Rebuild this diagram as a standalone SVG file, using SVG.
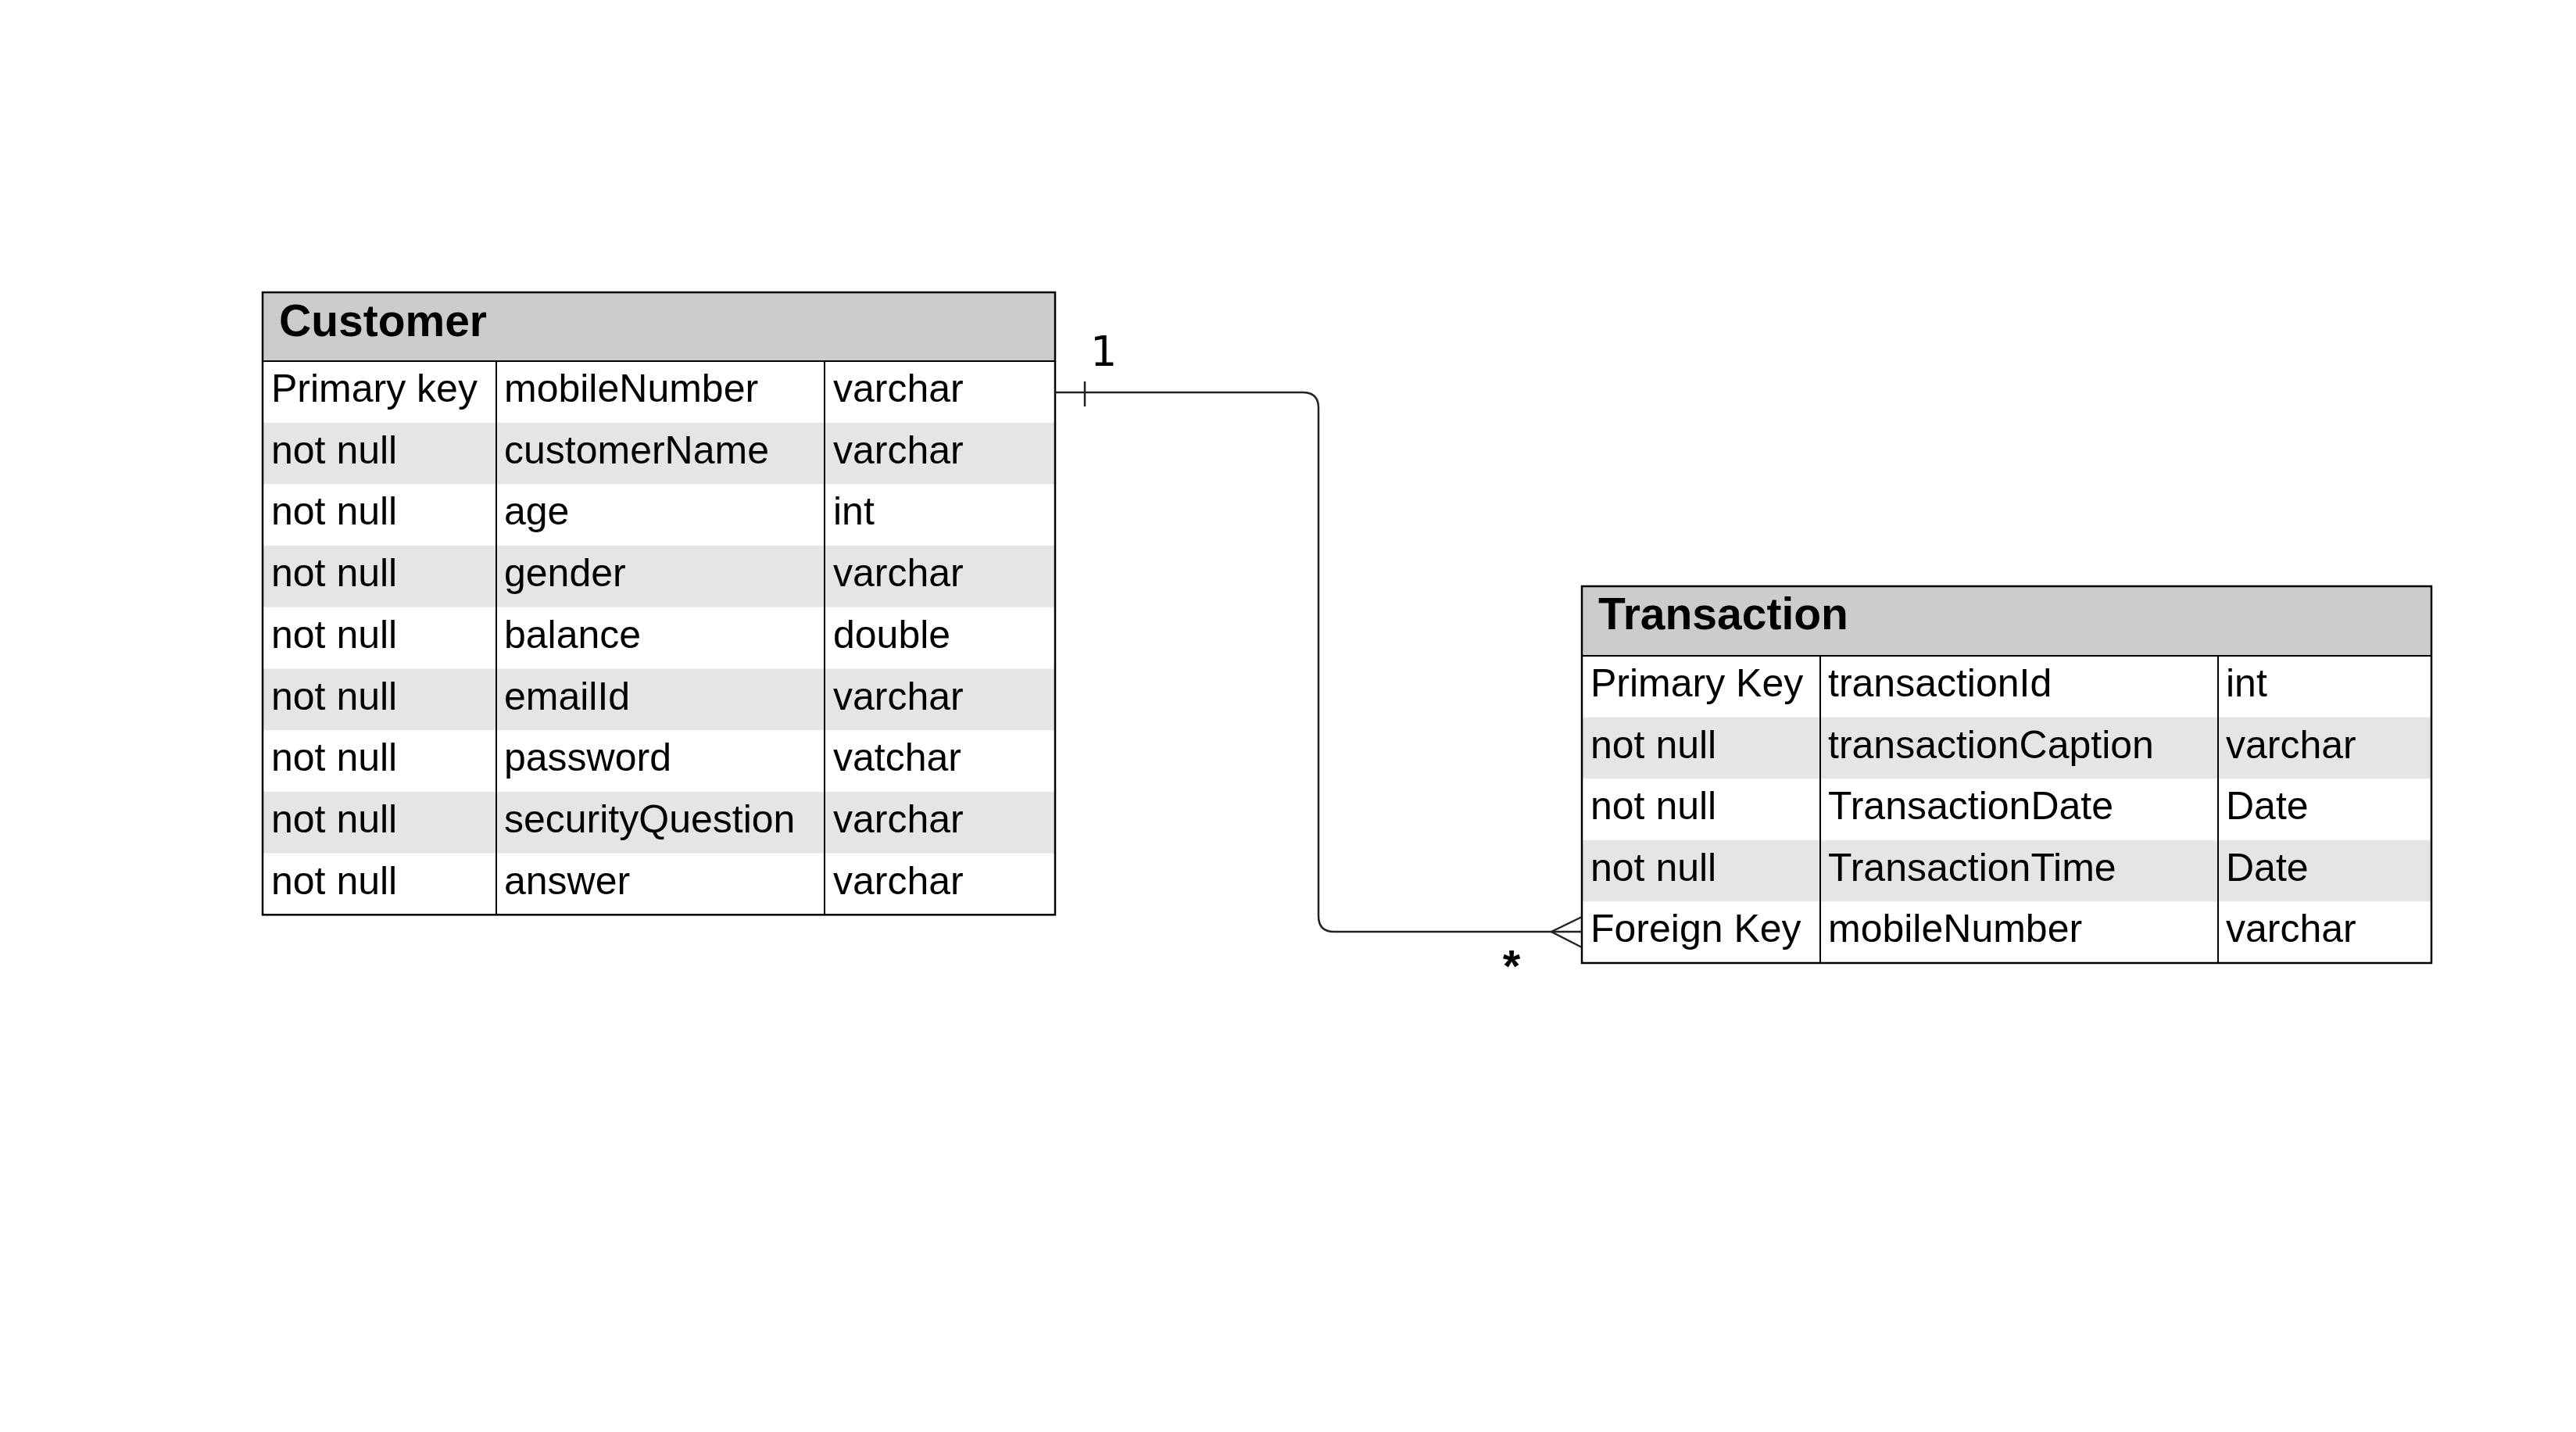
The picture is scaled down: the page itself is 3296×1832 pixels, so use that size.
<svg xmlns="http://www.w3.org/2000/svg" width="3296" height="1832" viewBox="0 0 3296 1832">
<style>
.hdr{fill:#cccccc}
.alt{fill:#e5e5e5}
.wht{fill:#ffffff}
.brd{fill:none;stroke:#000;stroke-width:2.5}
.div{stroke:#000;stroke-width:2}
.t{font-family:"Liberation Sans",Arial,sans-serif;font-size:50px;fill:#000}
.h{font-family:"Liberation Sans",Arial,sans-serif;font-size:57px;font-weight:bold;fill:#000}
.conn{fill:none;stroke:#222;stroke-width:2.5}
.lbl{font-family:"DejaVu Sans",sans-serif;font-size:54px;fill:#000}
.star{font-family:"Liberation Sans",Arial,sans-serif;font-size:58px;font-weight:bold;fill:#000}
</style>
<rect width="3296" height="1832" fill="#fff"/>
<g id="customer">
<rect class="hdr" x="336" y="374" width="1014" height="88"/>
<rect class="wht" x="336" y="462" width="1014" height="708.3"/>
<rect class="alt" x="336" y="540.7" width="1014" height="78.7"/>
<rect class="alt" x="336" y="698.1" width="1014" height="78.7"/>
<rect class="alt" x="336" y="855.5" width="1014" height="78.7"/>
<rect class="alt" x="336" y="1012.9" width="1014" height="78.7"/>
<line class="div" x1="336" y1="462" x2="1350" y2="462"/>
<line class="div" x1="635" y1="462" x2="635" y2="1170.3"/>
<line class="div" x1="1055" y1="462" x2="1055" y2="1170.3"/>
<rect class="brd" x="336" y="374" width="1014" height="796.3"/>
<text class="h" x="357" y="430">Customer</text>
<g class="t">
<text x="347" y="514">Primary key</text><text x="645" y="514">mobileNumber</text><text x="1066" y="514">varchar</text>
<text x="347" y="592.7">not null</text><text x="645" y="592.7">customerName</text><text x="1066" y="592.7">varchar</text>
<text x="347" y="671.4">not null</text><text x="645" y="671.4">age</text><text x="1066" y="671.4">int</text>
<text x="347" y="750.1">not null</text><text x="645" y="750.1">gender</text><text x="1066" y="750.1">varchar</text>
<text x="347" y="828.8">not null</text><text x="645" y="828.8">balance</text><text x="1066" y="828.8">double</text>
<text x="347" y="907.5">not null</text><text x="645" y="907.5">emailId</text><text x="1066" y="907.5">varchar</text>
<text x="347" y="986.2">not null</text><text x="645" y="986.2">password</text><text x="1066" y="986.2">vatchar</text>
<text x="347" y="1064.9">not null</text><text x="645" y="1064.9">securityQuestion</text><text x="1066" y="1064.9">varchar</text>
<text x="347" y="1143.6">not null</text><text x="645" y="1143.6">answer</text><text x="1066" y="1143.6">varchar</text>
</g>
</g>
<g id="transaction">
<rect class="hdr" x="2024" y="750" width="1087" height="89"/>
<rect class="wht" x="2024" y="839" width="1087" height="393"/>
<rect class="alt" x="2024" y="917.6" width="1087" height="78.6"/>
<rect class="alt" x="2024" y="1074.8" width="1087" height="78.6"/>
<line class="div" x1="2024" y1="839" x2="3111" y2="839"/>
<line class="div" x1="2329" y1="839" x2="2329" y2="1232"/>
<line class="div" x1="2838" y1="839" x2="2838" y2="1232"/>
<rect class="brd" x="2024" y="750" width="1087" height="482"/>
<text class="h" x="2045" y="805">Transaction</text>
<g class="t">
<text x="2035" y="891">Primary Key</text><text x="2339" y="891">transactionId</text><text x="2848" y="891">int</text>
<text x="2035" y="969.6">not null</text><text x="2339" y="969.6">transactionCaption</text><text x="2848" y="969.6">varchar</text>
<text x="2035" y="1048.2">not null</text><text x="2339" y="1048.2">TransactionDate</text><text x="2848" y="1048.2">Date</text>
<text x="2035" y="1126.8">not null</text><text x="2339" y="1126.8">TransactionTime</text><text x="2848" y="1126.8">Date</text>
<text x="2035" y="1205.4">Foreign Key</text><text x="2339" y="1205.4">mobileNumber</text><text x="2848" y="1205.4">varchar</text>
</g>
</g>
<g id="connectors">
<path class="conn" d="M1350,502 L1667,502 Q1687,502 1687,522 L1687,1172 Q1687,1192 1707,1192 L2024,1192"/>
<line class="conn" x1="1388" y1="488" x2="1388" y2="520"/>
<path class="conn" d="M2024,1173 L1985,1192 L2024,1212"/>
<text class="lbl" x="1395" y="468">1</text>
<text class="star" x="1934" y="1256" text-anchor="middle">*</text>
</g>
</svg>
